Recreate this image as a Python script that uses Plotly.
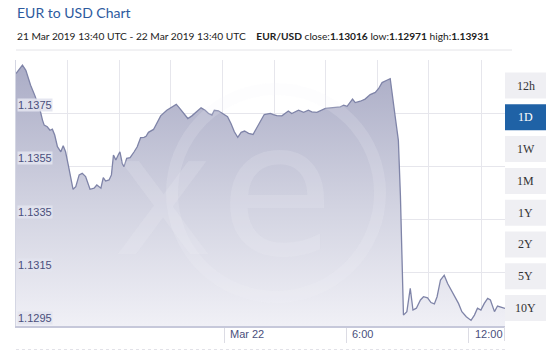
import plotly.graph_objects as go
import pandas as pd

# ---------------- data ----------------
minutes = [0, 19, 29, 43, 55, 63, 71, 78, 83, 92, 100, 107, 114, 122, 132, 139, 146, 154, 161, 168,
           176, 186, 195, 205, 218, 230, 238, 245, 250, 257, 264, 274, 281, 287, 294, 301, 306, 313,
           318, 326, 336, 348, 357, 367, 377, 383, 390, 405, 415, 426, 444, 459, 472, 481, 493, 506,
           518, 533, 545, 557, 567, 577, 584, 596, 609, 623, 633, 643, 653, 663, 673, 685, 698, 709,
           719, 731, 749, 758, 768, 783, 802, 812, 832, 847, 861, 871, 886, 911, 930, 955, 965, 975,
           991, 999, 1014, 1028, 1043, 1058, 1068, 1078, 1092, 1102, 1117, 1126, 1132, 1138, 1141,
           1151, 1161, 1169, 1179, 1191, 1200, 1212, 1222, 1232, 1240, 1250, 1261, 1271, 1284, 1294,
           1303, 1313, 1326, 1340, 1350, 1359, 1369, 1379, 1389, 1397, 1409, 1418, 1429, 1440]
rates = [1.13899, 1.13931, 1.13911, 1.13855, 1.13818, 1.13793, 1.13761, 1.13724, 1.13705, 1.13699,
         1.13686, 1.13690, 1.13668, 1.13624, 1.13605, 1.13628, 1.13605, 1.13555, 1.13505, 1.13464,
         1.13474, 1.13518, 1.13524, 1.13512, 1.13464, 1.13468, 1.13480, 1.13474, 1.13468, 1.13508,
         1.13495, 1.13499, 1.13518, 1.13593, 1.13574, 1.13593, 1.13605, 1.13561, 1.13549, 1.13580,
         1.13583, 1.13605, 1.13624, 1.13658, 1.13659, 1.13663, 1.13678, 1.13689, 1.13711, 1.13740,
         1.13761, 1.13774, 1.13783, 1.13770, 1.13749, 1.13730, 1.13740, 1.13755, 1.13770, 1.13761,
         1.13749, 1.13743, 1.13761, 1.13759, 1.13749, 1.13737, 1.13711, 1.13680, 1.13659, 1.13678,
         1.13683, 1.13674, 1.13670, 1.13693, 1.13718, 1.13745, 1.13749, 1.13745, 1.13741, 1.13740,
         1.13758, 1.13749, 1.13761, 1.13753, 1.13761, 1.13755, 1.13753, 1.13768, 1.13770, 1.13774,
         1.13780, 1.13776, 1.13803, 1.13790, 1.13795, 1.13803, 1.13820, 1.13828, 1.13843, 1.13865,
         1.13874, 1.13880, 1.13734, 1.13648, 1.13441, 1.13198, 1.12991, 1.13004, 1.13092, 1.13010,
         1.13017, 1.13048, 1.13060, 1.13056, 1.13038, 1.13033, 1.13060, 1.13123, 1.13141, 1.13110,
         1.13079, 1.13054, 1.13035, 1.13004, 1.12985, 1.12971, 1.12991, 1.13017, 1.13010, 1.13035,
         1.13054, 1.13048, 1.13004, 1.13025, 1.13020, 1.13016]

y_tick_values = [1.1295, 1.1315, 1.1335, 1.1355, 1.1375]
y_tick_labels = ["1.1295", "1.1315", "1.1335", "1.1355", "1.1375"]
x_tick_times = ["2019-03-22 00:00", "2019-03-22 06:00", "2019-03-22 12:00"]
x_tick_labels = ["Mar 22", "6:00", "12:00"]
periods = ["12h", "1D", "1W", "1M", "1Y", "2Y", "5Y", "10Y"]
active_period = "1D"

title_text = "EUR to USD Chart"
subtitle_text = ("21 Mar 2019 13:40 UTC - 22 Mar 2019 13:40 UTC&nbsp;&nbsp;&nbsp; "
                 "<b>EUR/USD</b> close:<b>1.13016</b> low:<b>1.12971</b> high:<b>1.13931</b>")

start = pd.Timestamp("2019-03-21 13:47")
times = [start + pd.Timedelta(minutes=m) for m in minutes]
x_end = start + pd.Timedelta(hours=24)

# ---------------- layout geometry ----------------
W, H = 546, 353
ML, MR, MT, MB = 16, 41, 60, 27
PW, PH = W - ML - MR, H - MT - MB


def px2x(px):
    return (px - ML) / PW


def py2y(py):
    return (H - MB - py) / PH


grid_fracs = [0.105, 0.2115, 0.3166, 0.423, 0.528, 0.633, 0.739, 0.844, 0.951]

TEXT_BLUE = "#4a4f7c"
WM = "rgba(244,245,250,0.17)"

fig = go.Figure()

fig.add_trace(go.Scatter(
    x=times, y=rates, mode="lines",
    line=dict(color="#7f84a8", width=1.3),
    fill="tozeroy",
    fillgradient=dict(type="vertical",
                      colorscale=[[0, "#f0f0f6"], [0.45, "#d2d3e1"], [1, "#a9abc5"]],
                      start=1.1295, stop=1.1395),
    hoverinfo="skip", showlegend=False,
))

shapes = []
annotations = []

# watermark ring
shapes.append(dict(type="circle", xref="paper", yref="paper",
                   x0=px2x(172), x1=px2x(380), y0=py2y(297), y1=py2y(89),
                   line=dict(color=WM, width=12), layer="above"))
for ch, cx, cy, sz in [("x", 163, 195, 170), ("e", 277, 190, 185)]:
    annotations.append(dict(text=ch, xref="paper", yref="paper", x=px2x(cx), y=py2y(cy),
                            xanchor="center", yanchor="middle", showarrow=False,
                            font=dict(family="DejaVu Sans", size=sz, color=WM)))

# header
annotations.append(dict(text=title_text, xref="paper", yref="paper", x=px2x(15), y=py2y(13),
                        xanchor="left", yanchor="middle", showarrow=False,
                        font=dict(family="Lato", size=14, color="#2d5a9e")))
annotations.append(dict(text=subtitle_text, xref="paper", yref="paper", x=px2x(15), y=py2y(36),
                        xanchor="left", yanchor="middle", showarrow=False,
                        font=dict(family="Lato", size=10.2, color="#222222")))
shapes.append(dict(type="line", xref="paper", yref="paper", x0=px2x(16), x1=px2x(512),
                   y0=py2y(50), y1=py2y(50), line=dict(color="#e4e4e8", width=1)))

# y tick labels with boxes
for v, t in zip(y_tick_values, y_tick_labels):
    annotations.append(dict(text=t, xref="paper", yref="y", x=px2x(17), y=v,
                            xanchor="left", yanchor="bottom", yshift=1, showarrow=False,
                            bgcolor="rgba(226,227,238,0.9)", borderpad=0,
                            font=dict(family="Liberation Sans", size=11, color=TEXT_BLUE)))

# x tick labels
for t, lab in zip(x_tick_times, x_tick_labels):
    annotations.append(dict(text=lab, xref="x", yref="paper", x=t, y=py2y(334),
                            xanchor="left", yanchor="middle", xshift=4, showarrow=False,
                            font=dict(family="Liberation Sans", size=11, color=TEXT_BLUE)))
shapes.append(dict(type="line", xref="paper", yref="paper", x0=px2x(504.5), x1=px2x(504.5),
                   y0=py2y(327), y1=py2y(341), line=dict(color="#dcdce4", width=1)))

# navigator line
shapes.append(dict(type="line", xref="paper", yref="paper", x0=px2x(16), x1=px2x(505),
                   y0=py2y(349.5), y1=py2y(349.5), line=dict(color="#e2e2e8", width=1, dash="dot")))

# period buttons
for i, p in enumerate(periods):
    top = 72.5 + 31.8 * i
    bot = top + 26
    act = p == active_period
    shapes.append(dict(type="rect", xref="paper", yref="paper",
                       x0=px2x(505), x1=px2x(547), y0=py2y(bot), y1=py2y(top),
                       fillcolor="#1f62a6" if act else "#efeff3", line=dict(width=0)))
    annotations.append(dict(text=p, xref="paper", yref="paper", x=px2x(525.5), y=py2y((top + bot) / 2),
                            xanchor="center", yanchor="middle", showarrow=False,
                            font=dict(family="Liberation Serif", size=12,
                                      color="#ffffff" if act else "#333333")))

fig.update_layout(
    width=W, height=H,
    margin=dict(l=ML, r=MR, t=MT, b=MB, pad=0),
    paper_bgcolor="white", plot_bgcolor="white",
    shapes=shapes, annotations=annotations,
    showlegend=False,
    xaxis=dict(type="date", range=[start, x_end], showgrid=False, zeroline=False,
               tickvals=x_tick_times, ticktext=["", "", ""], ticks="outside", ticklen=15,
               tickcolor="#dcdce4", tickwidth=1,
               showline=True, linecolor="#c6c8da", linewidth=2, fixedrange=True),
    xaxis2=dict(overlaying="x", range=[0, 1], tickvals=grid_fracs, showticklabels=False,
                showgrid=True, gridcolor="#e6e6ec", gridwidth=1, zeroline=False, ticks=""),
    yaxis=dict(range=[1.1295, 1.1395], tickvals=[1.1295, 1.1315, 1.1335, 1.1355, 1.1375, 1.1395],
               showticklabels=False, showgrid=True, gridcolor="#e6e6ec", gridwidth=1,
               zeroline=False, showline=True, linecolor="#d4d6e3", linewidth=1, ticks=""),
)
# an invisible trace so the grid axis is drawn
fig.add_trace(go.Scatter(x=[0, 1], y=[None, None], xaxis="x2", mode="lines",
                         hoverinfo="skip", showlegend=False))

fig.write_html("out.html")
